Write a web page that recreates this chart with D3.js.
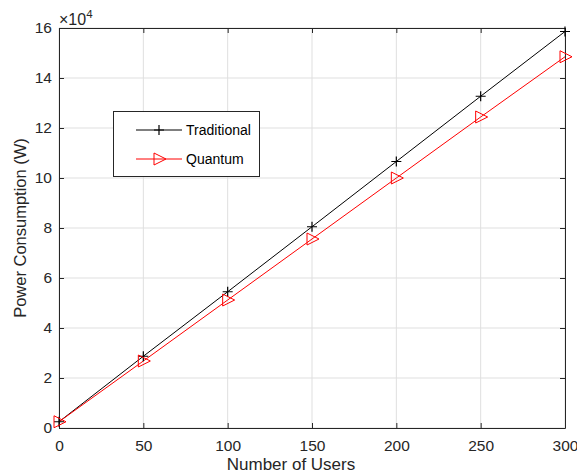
<!DOCTYPE html>
<html><head><meta charset="utf-8">
<script src="https://cdn.jsdelivr.net/npm/d3@7/dist/d3.min.js"></script>
<style>body{margin:0;background:#fff}svg{display:block}text{font-family:"Liberation Sans",Arial,Helvetica,sans-serif}</style>
</head><body>
<svg id="c" width="577" height="475"></svg>
<script>
const users = [0, 50, 100, 150, 200, 250, 300];
const traditional = [2500, 28700, 54500, 80500, 106600, 132700, 158600];
const quantum = [2500, 26800, 51200, 75600, 100000, 124400, 148500];
const xTicks = [0, 50, 100, 150, 200, 250, 300];
const yTicks = [0, 2, 4, 6, 8, 10, 12, 14, 16];
const seriesNames = ["Traditional", "Quantum"];

const svg = d3.select("#c");
const L = 59, R = 565, T = 28, B = 428;
const x = d3.scaleLinear().domain([0, 300]).range([L, R]);
const y = d3.scaleLinear().domain([0, 16]).range([B, T]);
const axisColor = "#262626";

// grid
svg.append("g").selectAll("line").data(xTicks).join("line")
  .attr("x1", d => x(d)).attr("x2", d => x(d)).attr("y1", T).attr("y2", B)
  .attr("stroke", "#dfdfdf").attr("stroke-width", 1);
svg.append("g").selectAll("line").data(yTicks).join("line")
  .attr("y1", d => y(d)).attr("y2", d => y(d)).attr("x1", L).attr("x2", R)
  .attr("stroke", "#dfdfdf").attr("stroke-width", 1);

// axes
const xa = svg.append("g").attr("transform", `translate(0,${B})`)
  .call(d3.axisBottom(x).tickValues(xTicks).tickSizeInner(-5).tickSizeOuter(0).tickPadding(12));
const xt = svg.append("g").attr("transform", `translate(0,${T})`)
  .call(d3.axisTop(x).tickValues(xTicks).tickSizeInner(-5).tickSizeOuter(0).tickFormat(""));
const ya = svg.append("g").attr("transform", `translate(${L},0)`)
  .call(d3.axisLeft(y).tickValues(yTicks).tickSizeInner(-5).tickSizeOuter(0).tickPadding(7));
const yr = svg.append("g").attr("transform", `translate(${R},0)`)
  .call(d3.axisRight(y).tickValues(yTicks).tickSizeInner(-5).tickSizeOuter(0).tickFormat(""));
[xa, xt, ya, yr].forEach(g => {
  g.select(".domain").attr("stroke", axisColor).attr("stroke-width", 1);
  g.selectAll(".tick line").attr("stroke", axisColor);
  g.selectAll("text").attr("fill", "#262626").attr("font-size", 15.5)
    .style("font-family", '"Liberation Sans",Arial,sans-serif');
});

// exponent
const ex = svg.append("text").attr("x", 59).attr("y", 25).attr("font-size", 16).attr("fill", "#262626");
ex.append("tspan").text("\u00d710");
ex.append("tspan").attr("dy", -7).attr("font-size", 11.5).text("4");

// labels
svg.append("text").attr("x", 291).attr("y", 470).attr("text-anchor", "middle")
  .attr("font-size", 17).attr("fill", "#262626").text("Number of Users");
svg.append("text").attr("transform", `translate(26,${(T + B) / 2}) rotate(-90)`)
  .attr("text-anchor", "middle").attr("font-size", 16.5).attr("fill", "#262626").text("Power Consumption (W)");

const line = d3.line().x((d, i) => x(users[i])).y(d => y(d / 1e4));
svg.append("path").datum(traditional).attr("d", line).attr("fill", "none").attr("stroke", "#000").attr("stroke-width", 1);
svg.append("path").datum(quantum).attr("d", line).attr("fill", "none").attr("stroke", "#ff0000").attr("stroke-width", 1);

function plus(g, cx, cy) {
  g.append("path").attr("d", `M${cx - 5},${cy}H${cx + 5}M${cx},${cy - 5}V${cy + 5}`)
    .attr("stroke", "#000").attr("stroke-width", 1.2).attr("fill", "none");
}
function tri(g, cx, cy) {
  g.append("path").attr("d", `M${cx - 5},${cy - 6}L${cx + 7},${cy}L${cx - 5},${cy + 6}Z`)
    .attr("stroke", "#ff0000").attr("stroke-width", 1).attr("fill", "none");
}
const mk = svg.append("g");
traditional.forEach((v, i) => plus(mk, x(users[i]), y(v / 1e4)));
quantum.forEach((v, i) => tri(mk, x(users[i]), y(v / 1e4)));

// legend
const lg = svg.append("g");
lg.append("rect").attr("x", 113.5).attr("y", 111.5).attr("width", 146).attr("height", 65)
  .attr("fill", "#fff").attr("stroke", axisColor).attr("stroke-width", 1);
const rows = [130, 159];
lg.append("line").attr("x1", 136).attr("x2", 182).attr("y1", rows[0]).attr("y2", rows[0]).attr("stroke", "#000");
plus(lg, 159, rows[0]);
lg.append("line").attr("x1", 136).attr("x2", 182).attr("y1", rows[1]).attr("y2", rows[1]).attr("stroke", "#ff0000");
tri(lg, 159, rows[1]);
seriesNames.forEach((n, i) => lg.append("text").attr("x", 186).attr("y", rows[i] + 5)
  .attr("font-size", 14).attr("fill", "#000").text(n));
</script>
</body></html>
